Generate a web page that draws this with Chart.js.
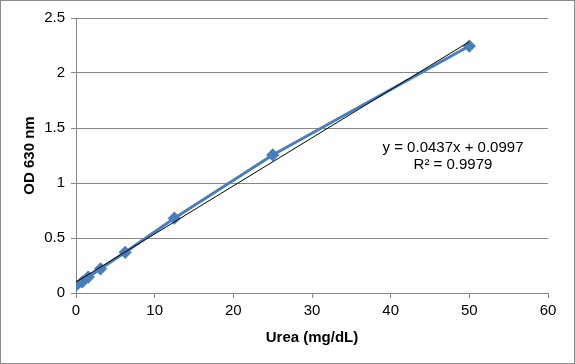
<!DOCTYPE html>
<html>
<head>
<meta charset="utf-8">
<script src="https://cdn.jsdelivr.net/npm/chart.js@4/dist/chart.umd.min.js"></script>
<style>
  body { margin: 0; background: #fff; }
  #wrap { width: 575px; height: 364px; box-sizing: border-box; border: 1px solid #8c8c8c; }
  #chartCanvas { display: block; }
</style>
</head>
<body>
<div id="wrap"><canvas id="chartCanvas" width="573" height="362"></canvas></div>
<script>
// standard curve: urea concentration vs absorbance
const ureaConc = [0, 0.78, 1.56, 3.125, 6.25, 12.5, 25, 50];
const odValues = [0.07, 0.10, 0.145, 0.22, 0.37, 0.68, 1.255, 2.245];

// linear trendline endpoints (from y = 0.0437x + 0.0997)
const trendX = [0, 50];
const trendY = [0.0997, 2.2847];

const equationText = 'y = 0.0437x + 0.0997';
const r2Text = 'R\u00b2 = 0.9979';

const FONT = 'Liberation Sans, Arial, sans-serif';
const AXIS_GREY = '#868686';

const labelPlugin = {
    id: 'trendLabel',
    afterDatasetsDraw(chart) {
        const ctx = chart.ctx;
        ctx.save();
        ctx.font = '15px ' + FONT;
        ctx.fillStyle = '#000';
        ctx.textAlign = 'center';
        ctx.textBaseline = 'middle';
        ctx.fillText(equationText, 452, 147);
        ctx.fillText(r2Text, 452, 164);
        ctx.restore();
    }
};

new Chart(document.getElementById('chartCanvas').getContext('2d'), {
    type: 'scatter',
    data: {
        datasets: [
            {
                label: 'OD',
                data: ureaConc.map((x, i) => ({ x: x, y: odValues[i] })),
                showLine: true,
                borderColor: '#4a7ebb',
                backgroundColor: '#4a7ebb',
                borderWidth: 3,
                pointStyle: 'rectRot',
                pointRadius: 4.5,
                pointHoverRadius: 4.5,
                order: 2
            },
            {
                label: 'Linear',
                data: trendX.map((x, i) => ({ x: x, y: trendY[i] })),
                showLine: true,
                borderColor: '#000',
                borderWidth: 1,
                pointRadius: 0,
                order: 1
            }
        ]
    },
    plugins: [labelPlugin],
    options: {
        responsive: false,
        animation: false,
        layout: { padding: { top: 17, right: 26, left: 0, bottom: 0 } },
        plugins: { legend: { display: false }, tooltip: { enabled: false } },
        scales: {
            x: {
                type: 'linear',
                min: 0,
                max: 60,
                ticks: { stepSize: 10, color: '#000', font: { family: FONT, size: 15 }, padding: 4 },
                grid: { drawOnChartArea: false, color: AXIS_GREY, tickLength: 5 },
                border: { color: AXIS_GREY },
                title: { display: true, text: 'Urea (mg/dL)', color: '#000', font: { family: FONT, size: 15, weight: 'bold' }, padding: { top: 4, bottom: 16 } },
                afterFit: scale => { scale.height = 70; }
            },
            y: {
                min: 0,
                max: 2.5,
                ticks: {
                    stepSize: 0.5, color: '#000', font: { family: FONT, size: 15 }, padding: 6,
                    callback: v => String(v)
                },
                grid: { color: AXIS_GREY, tickLength: 5 },
                border: { color: AXIS_GREY },
                title: { display: true, text: 'OD 630 nm', color: '#000', font: { family: FONT, size: 15, weight: 'bold' }, padding: { top: 20, bottom: 4 } },
                afterFit: scale => { scale.width = 75; }
            }
        }
    }
});
</script>
</body>
</html>
